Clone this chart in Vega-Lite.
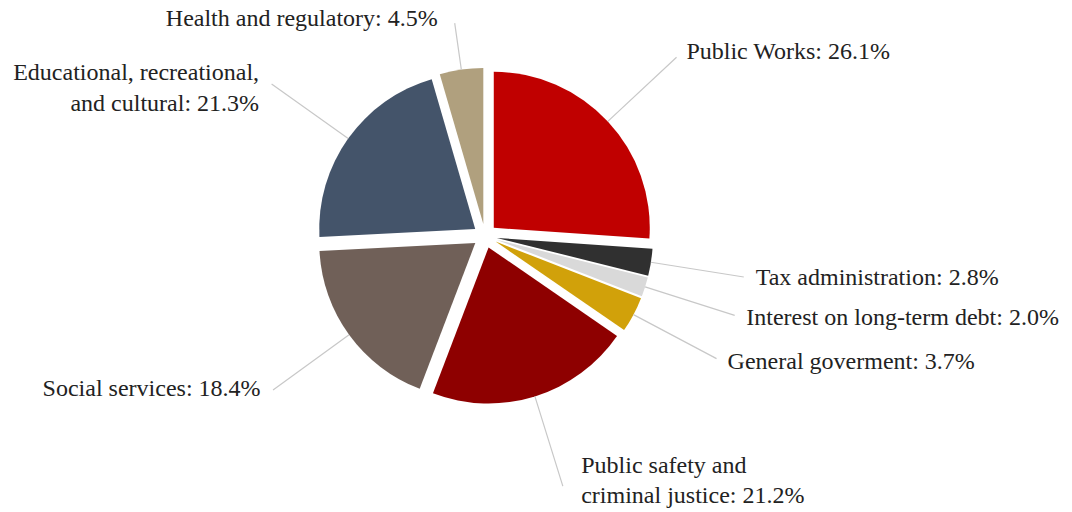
{
  "$schema": "https://vega.github.io/schema/vega-lite/v6.json",
  "width": 970,
  "height": 472,
  "autosize": {"type": "none"},
  "padding": {"left": 0, "top": 0, "right": 102, "bottom": 40},
  "background": "white",
  "config": {"view": {"stroke": null}, "font": "Liberation Serif"},
  "data": {
    "values": [
      {"order": 1, "category": "Public Works", "label": "Public Works: 26.1%", "value": 26.1},
      {"order": 2, "category": "Tax administration", "label": "Tax administration: 2.8%", "value": 2.8},
      {"order": 3, "category": "Interest on long-term debt", "label": "Interest on long-term debt: 2.0%", "value": 2.0},
      {"order": 4, "category": "General goverment", "label": "General goverment: 3.7%", "value": 3.7},
      {"order": 5, "category": "Public safety and criminal justice", "label": "Public safety and\ncriminal justice: 21.2%", "value": 21.2},
      {"order": 6, "category": "Social services", "label": "Social services: 18.4%", "value": 18.4},
      {"order": 7, "category": "Educational, recreational, and cultural", "label": "Educational, recreational,\nand cultural: 21.3%", "value": 21.3},
      {"order": 8, "category": "Health and regulatory", "label": "Health and regulatory: 4.5%", "value": 4.5}
    ]
  },
  "transform": [
    {"stack": "value", "groupby": [], "sort": [{"field": "order", "order": "ascending"}], "as": ["v0", "v1"]},
    {"fold": ["v0", "v1"], "as": ["edge", "ang"]},
    {"aggregate": [{"op": "mean", "field": "ang", "as": "mid"}], "groupby": ["order", "category", "label", "value", "v0", "v1"]}
  ],
  "layer": [
    {
      "mark": {
        "type": "arc",
        "radius": 156,
        "xOffset": {"expr": "12*sin(PI*datum.mid/50)"},
        "yOffset": {"expr": "-12*cos(PI*datum.mid/50)"}
      },
      "encoding": {
        "theta": {"field": "v0", "type": "quantitative", "stack": null, "scale": {"domain": [0, 100]}},
        "theta2": {"field": "v1"},
        "color": {
          "field": "category",
          "type": "nominal",
          "legend": null,
          "scale": {
            "domain": ["Public Works", "Tax administration", "Interest on long-term debt", "General goverment", "Public safety and criminal justice", "Social services", "Educational, recreational, and cultural", "Health and regulatory"],
            "range": ["#C00000", "#303030", "#D9D9D9", "#D1A10A", "#8E0000", "#706058", "#44546A", "#B0A07E"]
          }
        }
      }
    },
    {
      "transform": [{"filter": "datum.mid < 95"}],
      "mark": {"type": "arc", "radius": 262, "radius2": 168, "stroke": "#c8c8c8", "strokeWidth": 1.2, "fillOpacity": 0},
      "encoding": {
        "theta": {"field": "mid", "type": "quantitative", "stack": null, "scale": {"domain": [0, 100]}},
        "theta2": {"field": "mid"}
      }
    },
    {
      "transform": [{"filter": "datum.mid >= 95"}],
      "mark": {"type": "arc", "radius": 215, "radius2": 168, "stroke": "#c8c8c8", "strokeWidth": 1.2, "fillOpacity": 0},
      "encoding": {
        "theta": {"field": "mid", "type": "quantitative", "stack": null, "scale": {"domain": [0, 100]}},
        "theta2": {"field": "mid"}
      }
    },
    {
      "transform": [{"filter": "datum.mid < 40"}],
      "mark": {"type": "text", "align": "left", "baseline": "middle", "radius": 270, "dx": 4, "fontSize": 24, "font": "Liberation Serif", "color": "#222222", "lineBreak": "\n", "lineHeight": 30},
      "encoding": {
        "theta": {"field": "mid", "type": "quantitative", "stack": null, "scale": {"domain": [0, 100]}},
        "text": {"field": "label"}
      }
    },
    {
      "transform": [{"filter": "datum.mid >= 40 && datum.mid < 50"}],
      "mark": {"type": "text", "align": "left", "baseline": "middle", "radius": 270, "dx": 16, "dy": -28, "fontSize": 24, "font": "Liberation Serif", "color": "#222222", "lineBreak": "\n", "lineHeight": 30},
      "encoding": {
        "theta": {"field": "mid", "type": "quantitative", "stack": null, "scale": {"domain": [0, 100]}},
        "text": {"field": "label"}
      }
    },
    {
      "transform": [{"filter": "datum.mid >= 50 && datum.mid < 95"}],
      "mark": {"type": "text", "align": "right", "baseline": "middle", "radius": 270, "dx": -6, "dy": -6, "fontSize": 24, "font": "Liberation Serif", "color": "#222222", "lineBreak": "\n", "lineHeight": 31},
      "encoding": {
        "theta": {"field": "mid", "type": "quantitative", "stack": null, "scale": {"domain": [0, 100]}},
        "text": {"field": "label"}
      }
    },
    {
      "transform": [{"filter": "datum.mid >= 95"}],
      "mark": {"type": "text", "align": "right", "baseline": "middle", "radius": 222, "dx": -16, "dy": 3, "fontSize": 24, "font": "Liberation Serif", "color": "#222222", "lineBreak": "\n", "lineHeight": 30},
      "encoding": {
        "theta": {"field": "mid", "type": "quantitative", "stack": null, "scale": {"domain": [0, 100]}},
        "text": {"field": "label"}
      }
    }
  ]
}
